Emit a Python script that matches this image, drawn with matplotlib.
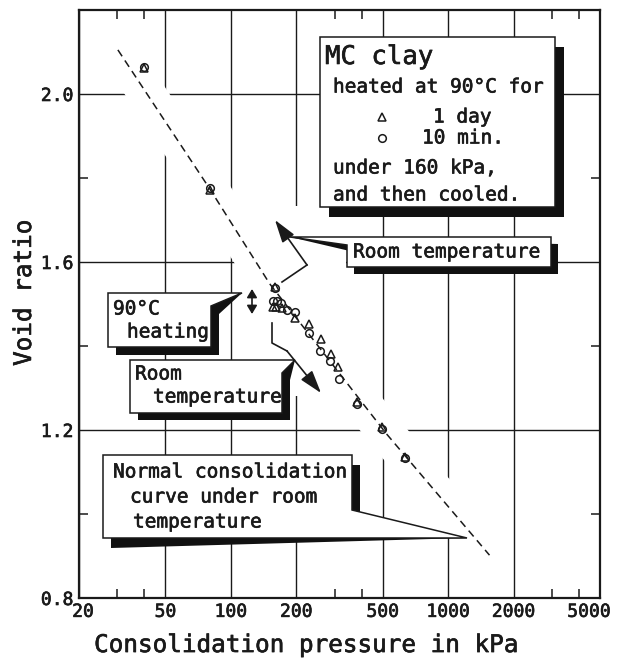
import matplotlib
matplotlib.use("Agg")
import matplotlib.pyplot as plt
import matplotlib.transforms as mtransforms
import matplotlib.patheffects as pe
from matplotlib.patches import Polygon, FancyArrowPatch
from matplotlib.lines import Line2D
from matplotlib.ticker import NullFormatter

# -----------------------------
# Data
# -----------------------------
# MC clay heated at 90 C for 10 min under 160 kPa, then cooled
p_10min = [40, 80, 160, 157, 163, 170, 182, 198, 228, 256, 286, 316, 380, 495, 635]
e_10min = [2.064, 1.776, 1.538, 1.506, 1.506, 1.503, 1.485, 1.480, 1.430, 1.389, 1.364, 1.322, 1.262, 1.203, 1.133]

# same clay heated for 1 day
p_1day = [40, 80, 160, 156, 162, 172, 198, 228, 260, 290, 312, 380, 495, 635]
e_1day = [2.062, 1.772, 1.540, 1.492, 1.492, 1.490, 1.466, 1.453, 1.417, 1.382, 1.350, 1.266, 1.206, 1.136]

# normal consolidation curve under room temperature
p_ncl = [30.2, 80, 151, 520, 1550]
e_ncl = [2.105, 1.774, 1.548, 1.191, 0.902]

x_ticks = [20, 50, 100, 200, 500, 1000, 2000, 5000]
x_minor = [30, 40, 300, 400, 3000, 4000]
y_ticks = [0.8, 1.2, 1.6, 2.0]
y_minor = [1.0, 1.4, 1.8]

# -----------------------------
# Figure
# -----------------------------
W, H = 618, 663
INK = "#1a1a1a"
plt.rcParams["font.family"] = ["DejaVu Sans Mono", "DejaVu Sans"]
HEAVY = [pe.withStroke(linewidth=0.45, foreground=INK)]

fig = plt.figure(figsize=(W / 100, H / 100), dpi=100)
ax = fig.add_axes([79 / W, 1 - 598 / H, 521 / W, 588 / H])

# canvas pixels, origin top-left (used for the annotation layout)
px = mtransforms.Affine2D().scale(1 / W, -1 / H).translate(0, 1) + fig.transFigure

ax.set_xscale("log")
ax.set_xlim(20, 5000)
ax.set_ylim(0.8, 2.2)
ax.set_xticks(x_ticks)
ax.set_xticklabels([str(t) for t in x_ticks])
ax.set_xticks(x_minor, minor=True)
ax.xaxis.set_minor_formatter(NullFormatter())
ax.set_yticks(y_ticks)
ax.set_yticklabels([f"{t:.1f}" for t in y_ticks])
ax.set_yticks(y_minor, minor=True)
ax.yaxis.set_minor_formatter(NullFormatter())

ax.tick_params(which="major", length=0, labelsize=13, colors=INK)
ax.tick_params(axis="x", which="major", pad=3.5)
ax.tick_params(axis="y", which="major", pad=4)
ax.tick_params(which="minor", direction="in", length=6.5, width=1.1, color=INK,
               top=True, right=True, bottom=True, left=True)
ax.grid(which="major", color=INK, lw=1.0)
ax.set_axisbelow(True)
for s in ax.spines.values():
    s.set_linewidth(1.6)
    s.set_color(INK)

ax.set_xlabel("Consolidation pressure in kPa", fontsize=17.5, va="center", color=INK,
              path_effects=HEAVY)
ax.xaxis.set_label_coords(0.436, -0.080)
ax.set_ylabel("Void ratio", fontsize=17.5, va="center", color=INK, path_effects=HEAVY)
ax.yaxis.set_label_coords(-0.1056, 0.519)

# -----------------------------
# Curves and points
# -----------------------------
# clear the grid around the curve and the arrows
ax.plot(p_ncl, e_ncl, color="white", lw=27, solid_capstyle="butt", zorder=0.8)
ax.add_patch(Polygon([(262, 206), (330, 206), (346, 230), (346, 270), (334, 396),
                      (290, 396), (268, 330)], closed=True, transform=px,
                     fc="white", ec="none", zorder=0.8))

ax.plot(p_ncl, e_ncl, color=INK, lw=1.1, ls=(0, (5, 3.3)), zorder=2)
ax.plot(p_1day, e_1day, ls="none", marker="^", ms=6, mfc="none", mec=INK, mew=1.1, zorder=3)
ax.plot(p_10min, e_10min, ls="none", marker="o", ms=5.5, mfc="none", mec=INK, mew=1.1, zorder=3)


# -----------------------------
# Callout boxes with drop shadow
# -----------------------------
def callout(verts, tip=None, off=(8, 8)):
    shade = [v if i == tip else (v[0] + off[0], v[1] + off[1]) for i, v in enumerate(verts)]
    ax.add_patch(Polygon(shade, closed=True, transform=px, fc="#111111", ec="none", zorder=4))
    ax.add_patch(Polygon(verts, closed=True, transform=px, fc="white", ec=INK, lw=1.1, zorder=4.1))


def label(x, y, s, size=14):
    ax.text(x, y, s, transform=px, ha="left", va="center", fontsize=size, color=INK,
            path_effects=HEAVY, zorder=6)


def arrow(a, b, style="-|>", scale=20, **kw):
    ax.add_patch(FancyArrowPatch(a, b, transform=px, arrowstyle=style, mutation_scale=scale,
                                 color=INK, lw=1.2, shrinkA=0, shrinkB=0, zorder=5, **kw))


def polyline(pts):
    ax.add_line(Line2D([p[0] for p in pts], [p[1] for p in pts], transform=px,
                       color=INK, lw=1.2, zorder=5))


# legend box
callout([(320, 37), (555, 37), (555, 207), (320, 207)], off=(9, 10))
label(325, 57, "MC clay", size=18.5)
label(333, 87, "heated at 90°C for")
ax.add_line(Line2D([382], [117], transform=px, marker="^", ms=6, mfc="none", mec=INK, mew=1.1, zorder=6))
label(433, 117, "1 day")
ax.add_line(Line2D([382], [138], transform=px, marker="o", ms=5.5, mfc="none", mec=INK, mew=1.1, zorder=6))
label(422, 138, "10 min.")
label(333, 168, "under 160 kPa,")
label(333, 195, "and then cooled.")

# room temperature (unloading side)
callout([(290, 237), (551, 237), (551, 267), (347, 267), (347, 245)], tip=0, off=(7, 7))
label(353, 252, "Room temperature")
polyline([(282, 282), (307, 265)])
arrow((307, 265), (275, 220), style="-|>,head_length=0.7,head_width=0.22")

# 90 C heating
callout([(108, 293), (242, 293), (211, 306), (211, 347), (108, 347)], tip=1, off=(8, 8))
label(113, 309, "90°C")
label(127, 332, "heating")
arrow((252, 289), (252, 314), style="<|-|>,head_length=0.5,head_width=0.3", scale=10)

# room temperature (reloading side)
callout([(130, 360), (295, 360), (282, 373), (282, 413), (130, 413)], tip=1, off=(8, 7))
label(135, 374, "Room")
label(153, 397, "temperature")
polyline([(272, 323), (272, 343), (287, 351)])
arrow((287, 351), (321, 393), style="-|>,head_length=0.7,head_width=0.22")

# normal consolidation curve
callout([(103, 455), (352, 455), (352, 510), (467, 538), (103, 538)], tip=3, off=(8, 10))
label(113, 472, "Normal consolidation")
label(130, 497, "curve under room")
label(133, 522, "temperature")

# tick labels a touch heavier; end labels of the pressure axis sit inside the frame
for lbl in ax.get_xticklabels() + ax.get_yticklabels():
    lbl.set_path_effects(HEAVY)
xlabels = ax.get_xticklabels()
for lbl, dx in ((xlabels[0], 4), (xlabels[-1], -11)):
    lbl.set_transform(lbl.get_transform() + mtransforms.ScaledTranslation(dx / 100, 0, fig.dpi_scale_trans))

fig.savefig("out.png", dpi=100)
